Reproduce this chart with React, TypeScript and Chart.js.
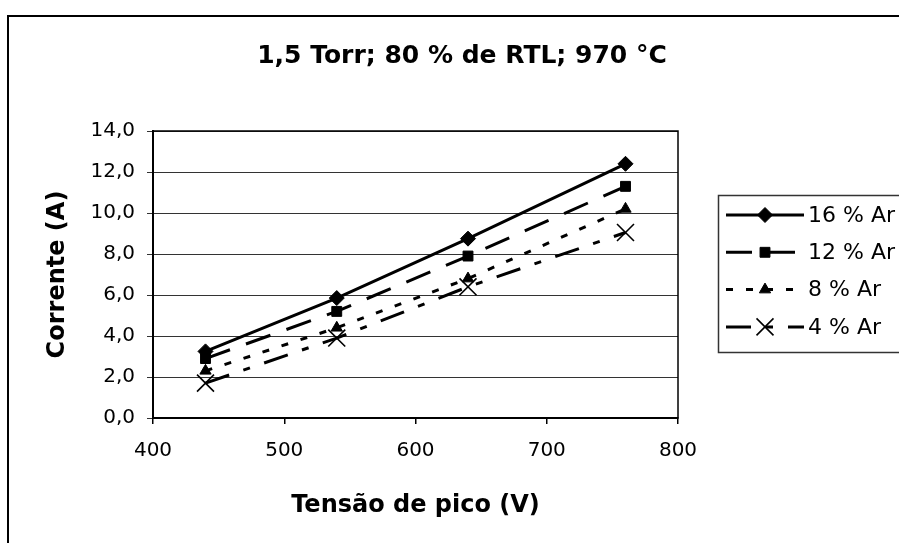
import React, { useEffect, useRef } from 'react';
import { Chart, registerables } from 'chart.js';
import { drawPoint } from 'chart.js/helpers';

Chart.register(...registerables);

// ---- data ----
const voltages = [440, 540, 640, 760];
const ar16 = [3.25, 5.85, 8.75, 12.4];
const ar12 = [2.9, 5.2, 7.9, 11.3];
const ar8 = [2.3, 4.4, 6.8, 10.2];
const ar4 = [1.7, 3.9, 6.4, 9.05];
const seriesLabels = ['16 % Ar', '12 % Ar', '8 % Ar', '4 % Ar'];
const titleText = '1,5 Torr; 80 % de RTL; 970 °C';
const xTitle = 'Tensão de pico (V)';
const yTitle = 'Corrente (A)';
const xMin = 400, xMax = 800, xStep = 100;
const yMin = 0, yMax = 14, yStep = 2;

const FONT = "'DejaVu Sans', sans-serif";

const seriesValues = [ar16, ar12, ar8, ar4];
const seriesStyles = [
  { pointStyle: 'rectRot', radius: 7.5, dash: [] as number[], pbw: 1 },
  { pointStyle: 'rect', radius: 7, dash: [26, 17], pbw: 1 },
  { pointStyle: 'triangle', radius: 6.5, dash: [7, 13], pbw: 1 },
  { pointStyle: 'crossRot', radius: 12, dash: [25, 15, 7, 15], pbw: 1.6 },
];

const framePlugin = {
  id: 'frame',
  beforeDraw(chart: any) {
    const ctx = chart.ctx;
    ctx.save();
    ctx.fillStyle = '#fff';
    ctx.fillRect(0, 0, chart.width, chart.height);
    ctx.strokeStyle = '#000';
    ctx.lineWidth = 2;
    ctx.beginPath();
    ctx.moveTo(8, 1000);
    ctx.lineTo(8, 16);
    ctx.lineTo(1000, 16);
    ctx.stroke();
    // title
    ctx.fillStyle = '#000';
    ctx.font = `bold 25px ${FONT}`;
    ctx.textAlign = 'center';
    ctx.textBaseline = 'middle';
    ctx.fillText(titleText, 462, 56);
    ctx.restore();
  },
  afterDraw(chart: any) {
    const ctx = chart.ctx;
    const a = chart.chartArea;
    ctx.save();
    ctx.strokeStyle = '#000';
    ctx.lineWidth = 1.5;
    ctx.strokeRect(a.left, a.top, a.right - a.left, a.bottom - a.top);
    // legend
    ctx.strokeStyle = '#333';
    ctx.lineWidth = 1.5;
    ctx.strokeRect(718.5, 195.5, 300, 157);
    chart.data.datasets.forEach((ds: any, i: number) => {
      const y = 215 + i * 37.3;
      ctx.strokeStyle = '#000';
      ctx.fillStyle = '#000';
      ctx.lineWidth = 3;
      ctx.setLineDash(ds.borderDash || []);
      ctx.beginPath();
      ctx.moveTo(726, y);
      ctx.lineTo(804, y);
      ctx.stroke();
      ctx.setLineDash([]);
      ctx.lineWidth = ds.pointBorderWidth;
      drawPoint(ctx, { pointStyle: ds.pointStyle, rotation: 0, radius: ds.pointRadius, borderWidth: ds.pointBorderWidth }, 765, y);
      ctx.font = `22px ${FONT}`;
      ctx.textAlign = 'left';
      ctx.textBaseline = 'middle';
      ctx.fillText(ds.label, 808, y + 1);
    });
    ctx.restore();
  },
};

export default function App() {
  const ref = useRef<HTMLCanvasElement>(null);
  useEffect(() => {
    const datasets = seriesValues.map((vals, i) => ({
      label: seriesLabels[i],
      data: vals.map((v, j) => ({ x: voltages[j], y: v })),
      borderColor: '#000',
      backgroundColor: '#000',
      borderWidth: 3,
      borderDash: seriesStyles[i].dash,
      pointStyle: seriesStyles[i].pointStyle,
      pointRadius: seriesStyles[i].radius,
      pointBorderWidth: seriesStyles[i].pbw,
      pointBackgroundColor: '#000',
      pointBorderColor: '#000',
      tension: 0,
      order: i,
    }));
    const chart = new Chart(ref.current!, {
      type: 'line',
      data: { datasets } as any,
      plugins: [framePlugin],
      options: {
        animation: false,
        responsive: false,
        devicePixelRatio: 1,
        layout: { padding: { left: 0, right: 221, top: 131, bottom: 0 } },
        plugins: {
          legend: { display: false },
          tooltip: { enabled: false },
          title: { display: false },
        },
        scales: {
          x: {
            type: 'linear',
            min: xMin,
            max: xMax,
            afterFit(scale: any) { scale.height = 125; },
            ticks: {
              stepSize: xStep,
              color: '#000',
              padding: 15,
              font: { family: FONT, size: 20 },
            },
            grid: { drawOnChartArea: false, drawTicks: true, tickLength: 6, color: '#000', lineWidth: 1.5 },
            border: { display: true, color: '#000', width: 2 },
            title: {
              display: true,
              text: xTitle,
              color: '#000',
              font: { family: FONT, size: 24, weight: 'bold', lineHeight: 1.2 },
              padding: { top: 0, bottom: 23 },
            },
          },
          y: {
            type: 'linear',
            min: yMin,
            max: yMax,
            afterFit(scale: any) { scale.width = 153; },
            ticks: {
              stepSize: yStep,
              color: '#000',
              padding: 12,
              font: { family: FONT, size: 20 },
              callback: (v: any) => Number(v).toFixed(1).replace('.', ','),
            },
            grid: { color: '#333', lineWidth: 1, tickLength: 6 },
            border: { display: true, color: '#000', width: 2 },
            title: {
              display: true,
              text: yTitle,
              color: '#000',
              font: { family: FONT, size: 24, weight: 'bold', lineHeight: 1.2 },
              padding: { top: 43, bottom: 0 },
            },
          },
        },
      } as any,
    });
    return () => chart.destroy();
  }, []);
  return (
    <div style={{ position: 'absolute', left: 0, top: 0, width: 899, height: 543, background: '#fff', overflow: 'hidden' }}>
      <canvas ref={ref} width={899} height={543} style={{ display: 'block', width: 899, height: 543 }} />
    </div>
  );
}
